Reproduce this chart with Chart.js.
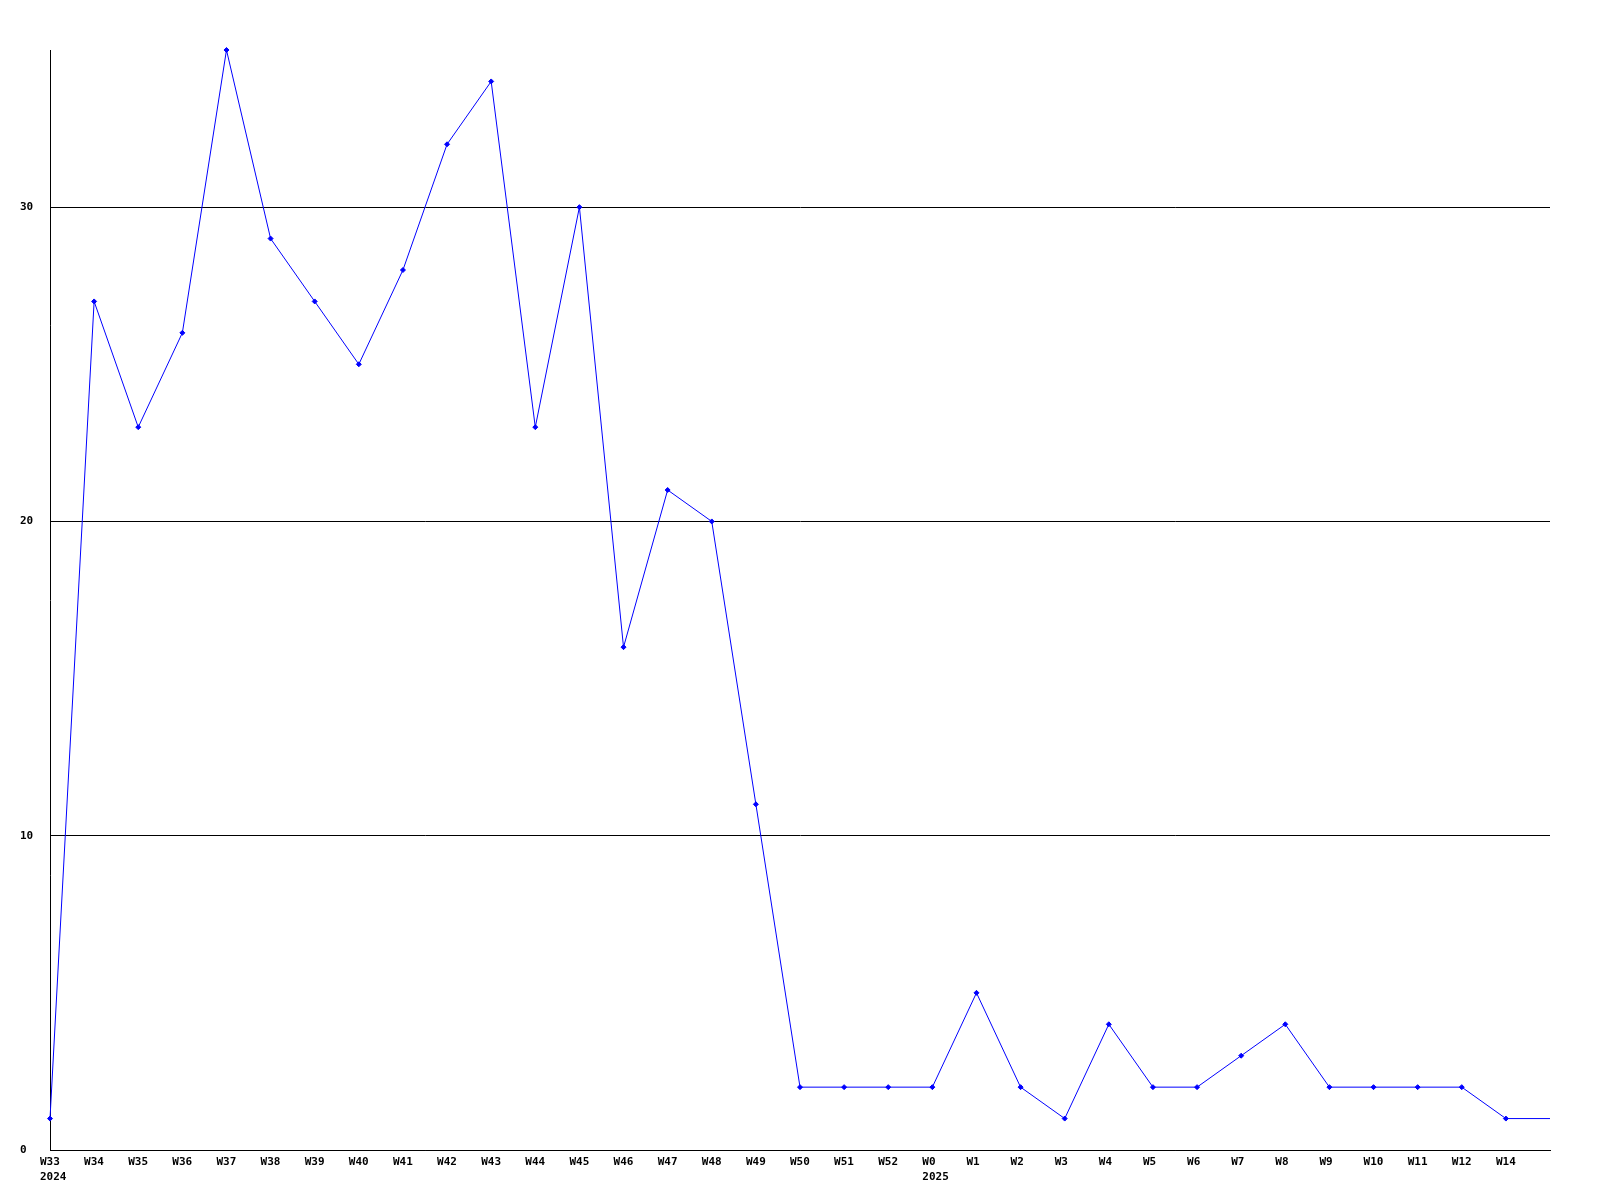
<!DOCTYPE html>
<html>
<head>
<meta charset="utf-8">
<script src="https://cdn.jsdelivr.net/npm/chart.js@4"></script>
<style>
  html, body { margin: 0; padding: 0; background: #ffffff; }
  #wrap { width: 1600px; height: 1200px; }
</style>
</head>
<body>
<div id="wrap"><canvas id="c" width="1600" height="1200"></canvas></div>
<script>
// Week labels along the x axis
const weeks = ["W33","W34","W35","W36","W37","W38","W39","W40","W41","W42","W43","W44","W45","W46","W47","W48","W49","W50","W51","W52",
               "W0","W1","W2","W3","W4","W5","W6","W7","W8","W9","W10","W11","W12","W14",""];
// Year row under the week labels (only where the year starts)
const years = ["2024","","","","","","","","","","","","","","","","","","","",
               "2025","","","","","","","","","","","","","",""];
// Series values
const counts = [1,27,23,26,35,29,27,25,28,32,34,23,30,16,21,20,11,2,2,2,
                2,5,2,1,4,2,2,3,4,2,2,2,2,1,1];
// Y-axis ticks
const yTicks = [0,10,20,30];
const yMax = 35;

const labels = weeks.map((w, i) => years[i] ? [w, years[i]] : w);

Chart.defaults.font.family = "'DejaVu Sans Mono', monospace";
Chart.defaults.font.size = 11;
Chart.defaults.font.weight = 'bold';
Chart.defaults.color = '#000000';

new Chart(document.getElementById('c'), {
  type: 'line',
  data: {
    labels: labels,
    datasets: [{
      data: counts,
      borderColor: '#0000ff',
      backgroundColor: '#0000ff',
      borderWidth: 1,
      tension: 0,
      fill: false,
      pointStyle: 'rectRot',
      pointRadius: ctx => (ctx.dataIndex === counts.length - 1 ? 0 : 2.5),
      pointBorderWidth: 1,
      pointBorderColor: '#0000ff',
      pointBackgroundColor: '#0000ff',
      clip: false
    }]
  },
  options: {
    responsive: false,
    animation: false,
    events: [],
    layout: { padding: { left: 20, top: 50, right: 50, bottom: 0 } },
    plugins: { legend: { display: false }, tooltip: { enabled: false } },
    scales: {
      x: {
        type: 'category',
        offset: false,
        grid: { display: false, drawTicks: false },
        border: { display: true, color: '#000000', width: 1 },
        ticks: {
          autoSkip: false,
          maxRotation: 0,
          minRotation: 0,
          align: 'start',
          labelOffset: -10,
          padding: 5,
          color: '#000000',
          font: { family: "'DejaVu Sans Mono', monospace", size: 11, weight: 'bold', lineHeight: 1.35 }
        },
        afterFit: s => { s.height = 50; }
      },
      y: {
        type: 'linear',
        min: 0,
        max: yMax,
        grid: { color: '#000000', lineWidth: 1, drawTicks: false },
        border: { display: true, color: '#000000', width: 1 },
        ticks: {
          stepSize: 10,
          includeBounds: false,
          crossAlign: 'far',
          padding: 0,
          color: '#000000',
          callback: v => (yTicks.includes(v) ? String(v) : null),
          font: { family: "'DejaVu Sans Mono', monospace", size: 11, weight: 'bold' }
        },
        afterFit: s => { s.width = 30; }
      }
    }
  }
});
</script>
</body>
</html>
